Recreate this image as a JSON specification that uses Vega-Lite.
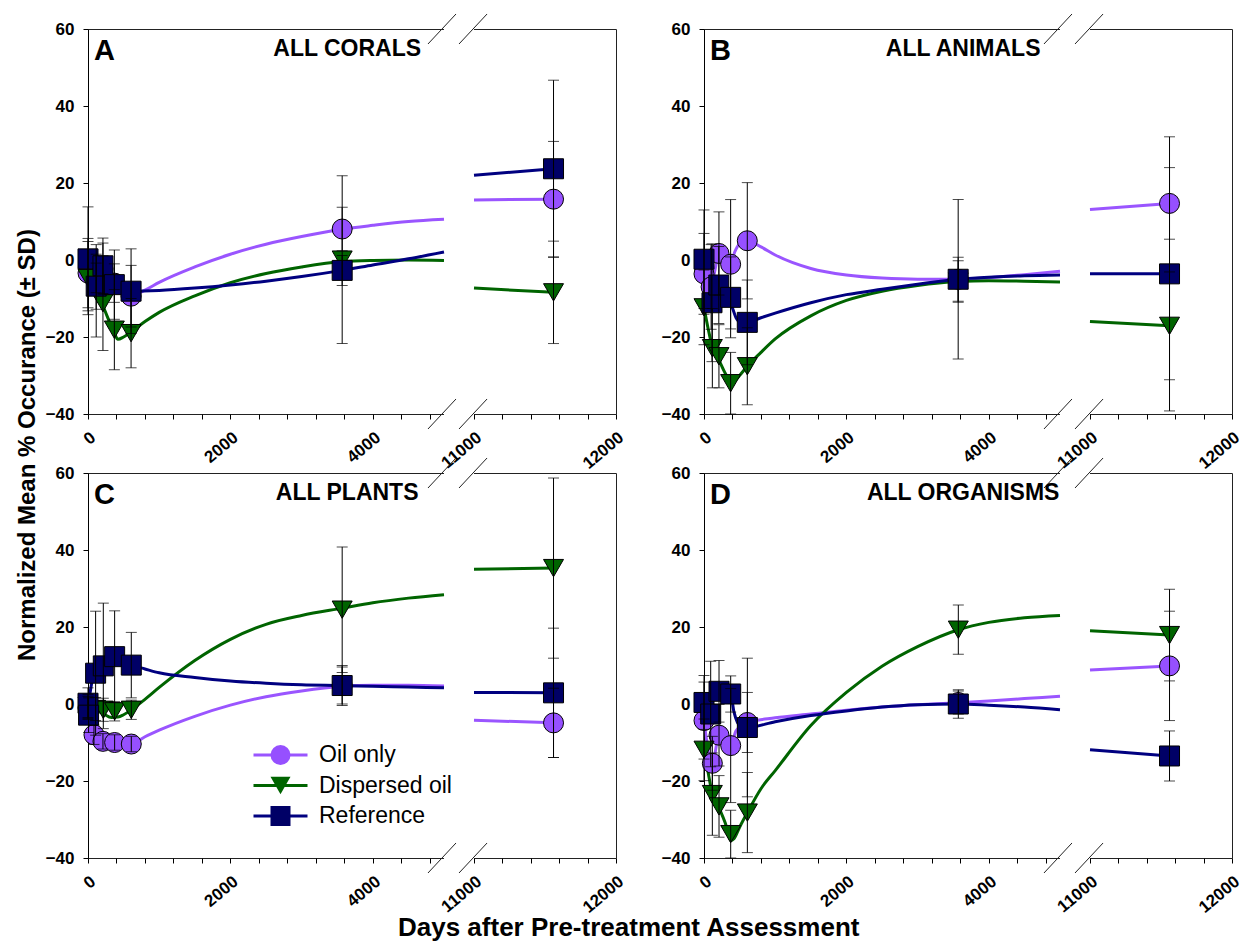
{
 "$schema": "https://vega.github.io/schema/vega-lite/v6.json",
 "padding": {"left": 15, "top": 12, "right": 0, "bottom": 0},
 "background": "white",
 "title": {"text": "Normalized Mean % Occurance (± SD)", "orient": "left", "anchor": "middle", "fontSize": 24, "font": "Liberation Sans", "fontWeight": "bold", "color": "black", "offset": 5, "dx": 32},
 "vconcat": [{
  "title": {"text": "Days after Pre-treatment Assessment", "orient": "bottom", "anchor": "middle", "fontSize": 26, "font": "Liberation Sans", "fontWeight": "bold", "color": "black", "offset": -1, "dx": -15},
  "data": {"values": [
   {"panel":"A","kind":"lab","letter":"A","name":"ALL CORALS"},
   {"panel":"B","kind":"lab","letter":"B","name":"ALL ANIMALS"},
   {"panel":"C","kind":"lab","letter":"C","name":"ALL PLANTS"},
   {"panel":"D","kind":"lab","letter":"D","name":"ALL ORGANISMS"},

   {"panel":"A","kind":"fit","treatment":"Oil only","seg":"L","day":0,"value":-3},
   {"panel":"A","kind":"fit","treatment":"Oil only","seg":"L","day":115,"value":-4},
   {"panel":"A","kind":"fit","treatment":"Oil only","seg":"L","day":210,"value":-5},
   {"panel":"A","kind":"fit","treatment":"Oil only","seg":"L","day":370,"value":-7},
   {"panel":"A","kind":"fit","treatment":"Oil only","seg":"L","day":605,"value":-9.2},
   {"panel":"A","kind":"fit","treatment":"Oil only","seg":"L","day":800,"value":-7.8},
   {"panel":"A","kind":"fit","treatment":"Oil only","seg":"L","day":1000,"value":-5.8},
   {"panel":"A","kind":"fit","treatment":"Oil only","seg":"L","day":1500,"value":-1.8},
   {"panel":"A","kind":"fit","treatment":"Oil only","seg":"L","day":2000,"value":1.5},
   {"panel":"A","kind":"fit","treatment":"Oil only","seg":"L","day":2500,"value":4.1},
   {"panel":"A","kind":"fit","treatment":"Oil only","seg":"L","day":3000,"value":6.1},
   {"panel":"A","kind":"fit","treatment":"Oil only","seg":"L","day":3570,"value":8.0},
   {"panel":"A","kind":"fit","treatment":"Oil only","seg":"L","day":4000,"value":9.0},
   {"panel":"A","kind":"fit","treatment":"Oil only","seg":"L","day":4500,"value":10},
   {"panel":"A","kind":"fit","treatment":"Oil only","seg":"L","day":5000,"value":10.6},
   {"panel":"A","kind":"fit","treatment":"Oil only","seg":"R","day":11000,"value":15.6},
   {"panel":"A","kind":"fit","treatment":"Oil only","seg":"R","day":11560,"value":15.8},
   {"panel":"A","kind":"fit","treatment":"Dispersed oil","seg":"L","day":0,"value":-4.7},
   {"panel":"A","kind":"fit","treatment":"Dispersed oil","seg":"L","day":115,"value":-8.5},
   {"panel":"A","kind":"fit","treatment":"Dispersed oil","seg":"L","day":210,"value":-12},
   {"panel":"A","kind":"fit","treatment":"Dispersed oil","seg":"L","day":300,"value":-16},
   {"panel":"A","kind":"fit","treatment":"Dispersed oil","seg":"L","day":370,"value":-19},
   {"panel":"A","kind":"fit","treatment":"Dispersed oil","seg":"L","day":420,"value":-20.6},
   {"panel":"A","kind":"fit","treatment":"Dispersed oil","seg":"L","day":500,"value":-20},
   {"panel":"A","kind":"fit","treatment":"Dispersed oil","seg":"L","day":605,"value":-18.7},
   {"panel":"A","kind":"fit","treatment":"Dispersed oil","seg":"L","day":800,"value":-16},
   {"panel":"A","kind":"fit","treatment":"Dispersed oil","seg":"L","day":1000,"value":-13.6},
   {"panel":"A","kind":"fit","treatment":"Dispersed oil","seg":"L","day":1500,"value":-9.3},
   {"panel":"A","kind":"fit","treatment":"Dispersed oil","seg":"L","day":2000,"value":-5.9},
   {"panel":"A","kind":"fit","treatment":"Dispersed oil","seg":"L","day":2500,"value":-3.5},
   {"panel":"A","kind":"fit","treatment":"Dispersed oil","seg":"L","day":3000,"value":-1.8},
   {"panel":"A","kind":"fit","treatment":"Dispersed oil","seg":"L","day":3570,"value":-0.4},
   {"panel":"A","kind":"fit","treatment":"Dispersed oil","seg":"L","day":4000,"value":-0.1},
   {"panel":"A","kind":"fit","treatment":"Dispersed oil","seg":"L","day":4500,"value":0},
   {"panel":"A","kind":"fit","treatment":"Dispersed oil","seg":"L","day":5000,"value":-0.1},
   {"panel":"A","kind":"fit","treatment":"Dispersed oil","seg":"R","day":11000,"value":-7.3},
   {"panel":"A","kind":"fit","treatment":"Dispersed oil","seg":"R","day":11560,"value":-8.4},
   {"panel":"A","kind":"fit","treatment":"Reference","seg":"L","day":0,"value":0.3},
   {"panel":"A","kind":"fit","treatment":"Reference","seg":"L","day":60,"value":-3.5},
   {"panel":"A","kind":"fit","treatment":"Reference","seg":"L","day":115,"value":-6.5},
   {"panel":"A","kind":"fit","treatment":"Reference","seg":"L","day":210,"value":-7.3},
   {"panel":"A","kind":"fit","treatment":"Reference","seg":"L","day":370,"value":-7.7},
   {"panel":"A","kind":"fit","treatment":"Reference","seg":"L","day":605,"value":-8.1},
   {"panel":"A","kind":"fit","treatment":"Reference","seg":"L","day":1000,"value":-7.9},
   {"panel":"A","kind":"fit","treatment":"Reference","seg":"L","day":1500,"value":-7.3},
   {"panel":"A","kind":"fit","treatment":"Reference","seg":"L","day":2000,"value":-6.5},
   {"panel":"A","kind":"fit","treatment":"Reference","seg":"L","day":2500,"value":-5.5},
   {"panel":"A","kind":"fit","treatment":"Reference","seg":"L","day":3000,"value":-4.3},
   {"panel":"A","kind":"fit","treatment":"Reference","seg":"L","day":3570,"value":-2.7},
   {"panel":"A","kind":"fit","treatment":"Reference","seg":"L","day":4000,"value":-1.3},
   {"panel":"A","kind":"fit","treatment":"Reference","seg":"L","day":4500,"value":0.3},
   {"panel":"A","kind":"fit","treatment":"Reference","seg":"L","day":5000,"value":2.1},
   {"panel":"A","kind":"fit","treatment":"Reference","seg":"R","day":11000,"value":22.0},
   {"panel":"A","kind":"fit","treatment":"Reference","seg":"R","day":11560,"value":23.7},

   {"panel":"B","kind":"fit","treatment":"Oil only","seg":"L","day":0,"value":-3.6},
   {"panel":"B","kind":"fit","treatment":"Oil only","seg":"L","day":50,"value":-6},
   {"panel":"B","kind":"fit","treatment":"Oil only","seg":"L","day":100,"value":-7.5},
   {"panel":"B","kind":"fit","treatment":"Oil only","seg":"L","day":150,"value":-3},
   {"panel":"B","kind":"fit","treatment":"Oil only","seg":"L","day":210,"value":1.7},
   {"panel":"B","kind":"fit","treatment":"Oil only","seg":"L","day":300,"value":0.5},
   {"panel":"B","kind":"fit","treatment":"Oil only","seg":"L","day":374,"value":-1.1},
   {"panel":"B","kind":"fit","treatment":"Oil only","seg":"L","day":430,"value":2},
   {"panel":"B","kind":"fit","treatment":"Oil only","seg":"L","day":500,"value":4.2},
   {"panel":"B","kind":"fit","treatment":"Oil only","seg":"L","day":608,"value":5},
   {"panel":"B","kind":"fit","treatment":"Oil only","seg":"L","day":800,"value":3.4},
   {"panel":"B","kind":"fit","treatment":"Oil only","seg":"L","day":1000,"value":1.3},
   {"panel":"B","kind":"fit","treatment":"Oil only","seg":"L","day":1500,"value":-2.2},
   {"panel":"B","kind":"fit","treatment":"Oil only","seg":"L","day":2000,"value":-3.9},
   {"panel":"B","kind":"fit","treatment":"Oil only","seg":"L","day":2500,"value":-4.7},
   {"panel":"B","kind":"fit","treatment":"Oil only","seg":"L","day":3000,"value":-5.0},
   {"panel":"B","kind":"fit","treatment":"Oil only","seg":"L","day":3570,"value":-5.0},
   {"panel":"B","kind":"fit","treatment":"Oil only","seg":"L","day":4000,"value":-4.6},
   {"panel":"B","kind":"fit","treatment":"Oil only","seg":"L","day":4500,"value":-3.8},
   {"panel":"B","kind":"fit","treatment":"Oil only","seg":"L","day":5000,"value":-2.9},
   {"panel":"B","kind":"fit","treatment":"Oil only","seg":"R","day":11000,"value":13.1},
   {"panel":"B","kind":"fit","treatment":"Oil only","seg":"R","day":11560,"value":14.7},
   {"panel":"B","kind":"fit","treatment":"Dispersed oil","seg":"L","day":0,"value":-12.3},
   {"panel":"B","kind":"fit","treatment":"Dispersed oil","seg":"L","day":60,"value":-18},
   {"panel":"B","kind":"fit","treatment":"Dispersed oil","seg":"L","day":117,"value":-22.6},
   {"panel":"B","kind":"fit","treatment":"Dispersed oil","seg":"L","day":210,"value":-26},
   {"panel":"B","kind":"fit","treatment":"Dispersed oil","seg":"L","day":300,"value":-29.5},
   {"panel":"B","kind":"fit","treatment":"Dispersed oil","seg":"L","day":374,"value":-31.8},
   {"panel":"B","kind":"fit","treatment":"Dispersed oil","seg":"L","day":420,"value":-31.5},
   {"panel":"B","kind":"fit","treatment":"Dispersed oil","seg":"L","day":500,"value":-30},
   {"panel":"B","kind":"fit","treatment":"Dispersed oil","seg":"L","day":608,"value":-27.6},
   {"panel":"B","kind":"fit","treatment":"Dispersed oil","seg":"L","day":800,"value":-24},
   {"panel":"B","kind":"fit","treatment":"Dispersed oil","seg":"L","day":1000,"value":-20.5},
   {"panel":"B","kind":"fit","treatment":"Dispersed oil","seg":"L","day":1500,"value":-14.5},
   {"panel":"B","kind":"fit","treatment":"Dispersed oil","seg":"L","day":2000,"value":-10.5},
   {"panel":"B","kind":"fit","treatment":"Dispersed oil","seg":"L","day":2500,"value":-8.1},
   {"panel":"B","kind":"fit","treatment":"Dispersed oil","seg":"L","day":3000,"value":-6.6},
   {"panel":"B","kind":"fit","treatment":"Dispersed oil","seg":"L","day":3570,"value":-5.6},
   {"panel":"B","kind":"fit","treatment":"Dispersed oil","seg":"L","day":4000,"value":-5.4},
   {"panel":"B","kind":"fit","treatment":"Dispersed oil","seg":"L","day":4500,"value":-5.5},
   {"panel":"B","kind":"fit","treatment":"Dispersed oil","seg":"L","day":5000,"value":-5.7},
   {"panel":"B","kind":"fit","treatment":"Dispersed oil","seg":"R","day":11000,"value":-16.0},
   {"panel":"B","kind":"fit","treatment":"Dispersed oil","seg":"R","day":11560,"value":-17.1},
   {"panel":"B","kind":"fit","treatment":"Reference","seg":"L","day":0,"value":0.2},
   {"panel":"B","kind":"fit","treatment":"Reference","seg":"L","day":50,"value":-5},
   {"panel":"B","kind":"fit","treatment":"Reference","seg":"L","day":112,"value":-9},
   {"panel":"B","kind":"fit","treatment":"Reference","seg":"L","day":210,"value":-9.2},
   {"panel":"B","kind":"fit","treatment":"Reference","seg":"L","day":330,"value":-9.8},
   {"panel":"B","kind":"fit","treatment":"Reference","seg":"L","day":400,"value":-12.5},
   {"panel":"B","kind":"fit","treatment":"Reference","seg":"L","day":450,"value":-15},
   {"panel":"B","kind":"fit","treatment":"Reference","seg":"L","day":500,"value":-16},
   {"panel":"B","kind":"fit","treatment":"Reference","seg":"L","day":608,"value":-16.2},
   {"panel":"B","kind":"fit","treatment":"Reference","seg":"L","day":800,"value":-15},
   {"panel":"B","kind":"fit","treatment":"Reference","seg":"L","day":1000,"value":-13.8},
   {"panel":"B","kind":"fit","treatment":"Reference","seg":"L","day":1500,"value":-11.1},
   {"panel":"B","kind":"fit","treatment":"Reference","seg":"L","day":2000,"value":-9.0},
   {"panel":"B","kind":"fit","treatment":"Reference","seg":"L","day":2500,"value":-7.6},
   {"panel":"B","kind":"fit","treatment":"Reference","seg":"L","day":3000,"value":-6.3},
   {"panel":"B","kind":"fit","treatment":"Reference","seg":"L","day":3570,"value":-5.0},
   {"panel":"B","kind":"fit","treatment":"Reference","seg":"L","day":4000,"value":-4.5},
   {"panel":"B","kind":"fit","treatment":"Reference","seg":"L","day":4500,"value":-4.1},
   {"panel":"B","kind":"fit","treatment":"Reference","seg":"L","day":5000,"value":-3.9},
   {"panel":"B","kind":"fit","treatment":"Reference","seg":"R","day":11000,"value":-3.6},
   {"panel":"B","kind":"fit","treatment":"Reference","seg":"R","day":11560,"value":-3.6},

   {"panel":"C","kind":"fit","treatment":"Oil only","seg":"L","day":0,"value":-1},
   {"panel":"C","kind":"fit","treatment":"Oil only","seg":"L","day":40,"value":-6},
   {"panel":"C","kind":"fit","treatment":"Oil only","seg":"L","day":84,"value":-8},
   {"panel":"C","kind":"fit","treatment":"Oil only","seg":"L","day":210,"value":-9.7},
   {"panel":"C","kind":"fit","treatment":"Oil only","seg":"L","day":374,"value":-10.1},
   {"panel":"C","kind":"fit","treatment":"Oil only","seg":"L","day":608,"value":-10.4},
   {"panel":"C","kind":"fit","treatment":"Oil only","seg":"L","day":800,"value":-8.5},
   {"panel":"C","kind":"fit","treatment":"Oil only","seg":"L","day":1000,"value":-6.8},
   {"panel":"C","kind":"fit","treatment":"Oil only","seg":"L","day":1500,"value":-3.2},
   {"panel":"C","kind":"fit","treatment":"Oil only","seg":"L","day":2000,"value":-0.3},
   {"panel":"C","kind":"fit","treatment":"Oil only","seg":"L","day":2500,"value":1.9},
   {"panel":"C","kind":"fit","treatment":"Oil only","seg":"L","day":3000,"value":3.4},
   {"panel":"C","kind":"fit","treatment":"Oil only","seg":"L","day":3570,"value":4.6},
   {"panel":"C","kind":"fit","treatment":"Oil only","seg":"L","day":4000,"value":4.9},
   {"panel":"C","kind":"fit","treatment":"Oil only","seg":"L","day":4500,"value":4.9},
   {"panel":"C","kind":"fit","treatment":"Oil only","seg":"L","day":5000,"value":4.7},
   {"panel":"C","kind":"fit","treatment":"Oil only","seg":"R","day":11000,"value":-4.2},
   {"panel":"C","kind":"fit","treatment":"Oil only","seg":"R","day":11560,"value":-4.9},
   {"panel":"C","kind":"fit","treatment":"Dispersed oil","seg":"L","day":0,"value":-0.5},
   {"panel":"C","kind":"fit","treatment":"Dispersed oil","seg":"L","day":107,"value":-1.5},
   {"panel":"C","kind":"fit","treatment":"Dispersed oil","seg":"L","day":215,"value":-2.5},
   {"panel":"C","kind":"fit","treatment":"Dispersed oil","seg":"L","day":330,"value":-3.5},
   {"panel":"C","kind":"fit","treatment":"Dispersed oil","seg":"L","day":420,"value":-3.4},
   {"panel":"C","kind":"fit","treatment":"Dispersed oil","seg":"L","day":500,"value":-2.8},
   {"panel":"C","kind":"fit","treatment":"Dispersed oil","seg":"L","day":608,"value":-1.5},
   {"panel":"C","kind":"fit","treatment":"Dispersed oil","seg":"L","day":800,"value":1.2},
   {"panel":"C","kind":"fit","treatment":"Dispersed oil","seg":"L","day":1000,"value":4.3},
   {"panel":"C","kind":"fit","treatment":"Dispersed oil","seg":"L","day":1500,"value":11.3},
   {"panel":"C","kind":"fit","treatment":"Dispersed oil","seg":"L","day":2000,"value":16.8},
   {"panel":"C","kind":"fit","treatment":"Dispersed oil","seg":"L","day":2500,"value":20.7},
   {"panel":"C","kind":"fit","treatment":"Dispersed oil","seg":"L","day":3000,"value":23.0},
   {"panel":"C","kind":"fit","treatment":"Dispersed oil","seg":"L","day":3570,"value":24.9},
   {"panel":"C","kind":"fit","treatment":"Dispersed oil","seg":"L","day":4000,"value":26.3},
   {"panel":"C","kind":"fit","treatment":"Dispersed oil","seg":"L","day":4500,"value":27.5},
   {"panel":"C","kind":"fit","treatment":"Dispersed oil","seg":"L","day":5000,"value":28.4},
   {"panel":"C","kind":"fit","treatment":"Dispersed oil","seg":"R","day":11000,"value":35.0},
   {"panel":"C","kind":"fit","treatment":"Dispersed oil","seg":"R","day":11560,"value":35.3},
   {"panel":"C","kind":"fit","treatment":"Reference","seg":"L","day":0,"value":-1},
   {"panel":"C","kind":"fit","treatment":"Reference","seg":"L","day":30,"value":3},
   {"panel":"C","kind":"fit","treatment":"Reference","seg":"L","day":60,"value":6.2},
   {"panel":"C","kind":"fit","treatment":"Reference","seg":"L","day":107,"value":8.2},
   {"panel":"C","kind":"fit","treatment":"Reference","seg":"L","day":215,"value":10.2},
   {"panel":"C","kind":"fit","treatment":"Reference","seg":"L","day":374,"value":11.8},
   {"panel":"C","kind":"fit","treatment":"Reference","seg":"L","day":608,"value":10.1},
   {"panel":"C","kind":"fit","treatment":"Reference","seg":"L","day":800,"value":9.1},
   {"panel":"C","kind":"fit","treatment":"Reference","seg":"L","day":1000,"value":8.1},
   {"panel":"C","kind":"fit","treatment":"Reference","seg":"L","day":1500,"value":6.9},
   {"panel":"C","kind":"fit","treatment":"Reference","seg":"L","day":2000,"value":6.0},
   {"panel":"C","kind":"fit","treatment":"Reference","seg":"L","day":2500,"value":5.4},
   {"panel":"C","kind":"fit","treatment":"Reference","seg":"L","day":3000,"value":5.0},
   {"panel":"C","kind":"fit","treatment":"Reference","seg":"L","day":3570,"value":4.8},
   {"panel":"C","kind":"fit","treatment":"Reference","seg":"L","day":4000,"value":4.6},
   {"panel":"C","kind":"fit","treatment":"Reference","seg":"L","day":4500,"value":4.4},
   {"panel":"C","kind":"fit","treatment":"Reference","seg":"L","day":5000,"value":4.2},
   {"panel":"C","kind":"fit","treatment":"Reference","seg":"R","day":11000,"value":3.0},
   {"panel":"C","kind":"fit","treatment":"Reference","seg":"R","day":11560,"value":2.9},

   {"panel":"D","kind":"fit","treatment":"Oil only","seg":"L","day":0,"value":-4.5},
   {"panel":"D","kind":"fit","treatment":"Oil only","seg":"L","day":117,"value":-15.4},
   {"panel":"D","kind":"fit","treatment":"Oil only","seg":"L","day":211,"value":-8.3},
   {"panel":"D","kind":"fit","treatment":"Oil only","seg":"L","day":300,"value":-9.5},
   {"panel":"D","kind":"fit","treatment":"Oil only","seg":"L","day":375,"value":-10.8},
   {"panel":"D","kind":"fit","treatment":"Oil only","seg":"L","day":450,"value":-7},
   {"panel":"D","kind":"fit","treatment":"Oil only","seg":"L","day":609,"value":-4.8},
   {"panel":"D","kind":"fit","treatment":"Oil only","seg":"L","day":1000,"value":-3.6},
   {"panel":"D","kind":"fit","treatment":"Oil only","seg":"L","day":1500,"value":-2.6},
   {"panel":"D","kind":"fit","treatment":"Oil only","seg":"L","day":2000,"value":-1.6},
   {"panel":"D","kind":"fit","treatment":"Oil only","seg":"L","day":2500,"value":-0.8},
   {"panel":"D","kind":"fit","treatment":"Oil only","seg":"L","day":3000,"value":-0.2},
   {"panel":"D","kind":"fit","treatment":"Oil only","seg":"L","day":3572,"value":0.3},
   {"panel":"D","kind":"fit","treatment":"Oil only","seg":"L","day":4000,"value":0.8},
   {"panel":"D","kind":"fit","treatment":"Oil only","seg":"L","day":4500,"value":1.4},
   {"panel":"D","kind":"fit","treatment":"Oil only","seg":"L","day":5000,"value":2.0},
   {"panel":"D","kind":"fit","treatment":"Oil only","seg":"R","day":11000,"value":8.8},
   {"panel":"D","kind":"fit","treatment":"Oil only","seg":"R","day":11560,"value":9.9},
   {"panel":"D","kind":"fit","treatment":"Dispersed oil","seg":"L","day":0,"value":-11.9},
   {"panel":"D","kind":"fit","treatment":"Dispersed oil","seg":"L","day":60,"value":-18},
   {"panel":"D","kind":"fit","treatment":"Dispersed oil","seg":"L","day":117,"value":-23.4},
   {"panel":"D","kind":"fit","treatment":"Dispersed oil","seg":"L","day":211,"value":-27},
   {"panel":"D","kind":"fit","treatment":"Dispersed oil","seg":"L","day":300,"value":-31},
   {"panel":"D","kind":"fit","treatment":"Dispersed oil","seg":"L","day":375,"value":-35.5},
   {"panel":"D","kind":"fit","treatment":"Dispersed oil","seg":"L","day":420,"value":-35},
   {"panel":"D","kind":"fit","treatment":"Dispersed oil","seg":"L","day":500,"value":-32},
   {"panel":"D","kind":"fit","treatment":"Dispersed oil","seg":"L","day":609,"value":-28.2},
   {"panel":"D","kind":"fit","treatment":"Dispersed oil","seg":"L","day":800,"value":-22},
   {"panel":"D","kind":"fit","treatment":"Dispersed oil","seg":"L","day":1000,"value":-17.3},
   {"panel":"D","kind":"fit","treatment":"Dispersed oil","seg":"L","day":1500,"value":-5.6},
   {"panel":"D","kind":"fit","treatment":"Dispersed oil","seg":"L","day":2000,"value":3.0},
   {"panel":"D","kind":"fit","treatment":"Dispersed oil","seg":"L","day":2500,"value":9.8},
   {"panel":"D","kind":"fit","treatment":"Dispersed oil","seg":"L","day":3000,"value":14.9},
   {"panel":"D","kind":"fit","treatment":"Dispersed oil","seg":"L","day":3572,"value":19.3},
   {"panel":"D","kind":"fit","treatment":"Dispersed oil","seg":"L","day":4000,"value":21.2},
   {"panel":"D","kind":"fit","treatment":"Dispersed oil","seg":"L","day":4500,"value":22.4},
   {"panel":"D","kind":"fit","treatment":"Dispersed oil","seg":"L","day":5000,"value":23.0},
   {"panel":"D","kind":"fit","treatment":"Dispersed oil","seg":"R","day":11000,"value":19.0},
   {"panel":"D","kind":"fit","treatment":"Dispersed oil","seg":"R","day":11560,"value":17.9},
   {"panel":"D","kind":"fit","treatment":"Reference","seg":"L","day":0,"value":0.4},
   {"panel":"D","kind":"fit","treatment":"Reference","seg":"L","day":60,"value":1.8},
   {"panel":"D","kind":"fit","treatment":"Reference","seg":"L","day":120,"value":3.0},
   {"panel":"D","kind":"fit","treatment":"Reference","seg":"L","day":211,"value":3.3},
   {"panel":"D","kind":"fit","treatment":"Reference","seg":"L","day":375,"value":2.6},
   {"panel":"D","kind":"fit","treatment":"Reference","seg":"L","day":420,"value":-2},
   {"panel":"D","kind":"fit","treatment":"Reference","seg":"L","day":470,"value":-4.8},
   {"panel":"D","kind":"fit","treatment":"Reference","seg":"L","day":520,"value":-5.8},
   {"panel":"D","kind":"fit","treatment":"Reference","seg":"L","day":609,"value":-6.1},
   {"panel":"D","kind":"fit","treatment":"Reference","seg":"L","day":1000,"value":-4.6},
   {"panel":"D","kind":"fit","treatment":"Reference","seg":"L","day":1500,"value":-3.0},
   {"panel":"D","kind":"fit","treatment":"Reference","seg":"L","day":2000,"value":-1.8},
   {"panel":"D","kind":"fit","treatment":"Reference","seg":"L","day":2500,"value":-0.8},
   {"panel":"D","kind":"fit","treatment":"Reference","seg":"L","day":3000,"value":-0.2},
   {"panel":"D","kind":"fit","treatment":"Reference","seg":"L","day":3572,"value":0},
   {"panel":"D","kind":"fit","treatment":"Reference","seg":"L","day":4000,"value":-0.3},
   {"panel":"D","kind":"fit","treatment":"Reference","seg":"L","day":4500,"value":-0.8},
   {"panel":"D","kind":"fit","treatment":"Reference","seg":"L","day":5000,"value":-1.5},
   {"panel":"D","kind":"fit","treatment":"Reference","seg":"R","day":11000,"value":-11.9},
   {"panel":"D","kind":"fit","treatment":"Reference","seg":"R","day":11560,"value":-13.5},

   {"panel":"A","kind":"pt","treatment":"Oil only","ord":1,"day":0,"value":-3.4,"sd":9},
   {"panel":"A","kind":"pt","treatment":"Oil only","ord":1,"day":115,"value":-3.5,"sd":5},
   {"panel":"A","kind":"pt","treatment":"Oil only","ord":1,"day":210,"value":-2.3,"sd":6.7},
   {"panel":"A","kind":"pt","treatment":"Oil only","ord":1,"day":370,"value":-6,"sd":5},
   {"panel":"A","kind":"pt","treatment":"Oil only","ord":1,"day":605,"value":-9.4,"sd":8},
   {"panel":"A","kind":"pt","treatment":"Oil only","ord":1,"day":3570,"value":8.05,"sd":5.65},
   {"panel":"A","kind":"pt","treatment":"Oil only","ord":1,"day":11560,"value":15.8,"sd":15},
   {"panel":"A","kind":"pt","treatment":"Dispersed oil","ord":2,"day":0,"value":-4.7,"sd":9.5},
   {"panel":"A","kind":"pt","treatment":"Dispersed oil","ord":2,"day":115,"value":-8,"sd":12},
   {"panel":"A","kind":"pt","treatment":"Dispersed oil","ord":2,"day":210,"value":-11.2,"sd":12.3},
   {"panel":"A","kind":"pt","treatment":"Dispersed oil","ord":2,"day":370,"value":-18.1,"sd":10.4},
   {"panel":"A","kind":"pt","treatment":"Dispersed oil","ord":2,"day":605,"value":-19,"sd":9},
   {"panel":"A","kind":"pt","treatment":"Dispersed oil","ord":2,"day":3570,"value":0.1,"sd":21.8},
   {"panel":"A","kind":"pt","treatment":"Dispersed oil","ord":2,"day":11560,"value":-8.4,"sd":13.3},
   {"panel":"A","kind":"pt","treatment":"Reference","ord":3,"day":0,"value":0.3,"sd":13.5},
   {"panel":"A","kind":"pt","treatment":"Reference","ord":3,"day":115,"value":-6.8,"sd":6},
   {"panel":"A","kind":"pt","treatment":"Reference","ord":3,"day":210,"value":-1.5,"sd":7.2},
   {"panel":"A","kind":"pt","treatment":"Reference","ord":3,"day":370,"value":-6.4,"sd":9},
   {"panel":"A","kind":"pt","treatment":"Reference","ord":3,"day":605,"value":-8.1,"sd":11},
   {"panel":"A","kind":"pt","treatment":"Reference","ord":3,"day":3570,"value":-2.7,"sd":3.9},
   {"panel":"A","kind":"pt","treatment":"Reference","ord":3,"day":11560,"value":23.7,"sd":23},

   {"panel":"B","kind":"pt","treatment":"Oil only","ord":1,"day":0,"value":-3.6,"sd":10.5},
   {"panel":"B","kind":"pt","treatment":"Oil only","ord":1,"day":100,"value":-7,"sd":11},
   {"panel":"B","kind":"pt","treatment":"Oil only","ord":1,"day":210,"value":1.7,"sd":10.8},
   {"panel":"B","kind":"pt","treatment":"Oil only","ord":1,"day":374,"value":-1.1,"sd":16.8},
   {"panel":"B","kind":"pt","treatment":"Oil only","ord":1,"day":608,"value":5,"sd":15.1},
   {"panel":"B","kind":"pt","treatment":"Oil only","ord":1,"day":3570,"value":-5,"sd":5.7},
   {"panel":"B","kind":"pt","treatment":"Oil only","ord":1,"day":11560,"value":14.7,"sd":9.3},
   {"panel":"B","kind":"pt","treatment":"Dispersed oil","ord":2,"day":0,"value":-12.3,"sd":9.7},
   {"panel":"B","kind":"pt","treatment":"Dispersed oil","ord":2,"day":117,"value":-22.9,"sd":10.3},
   {"panel":"B","kind":"pt","treatment":"Dispersed oil","ord":2,"day":210,"value":-25,"sd":8.2},
   {"panel":"B","kind":"pt","treatment":"Dispersed oil","ord":2,"day":374,"value":-32,"sd":8},
   {"panel":"B","kind":"pt","treatment":"Dispersed oil","ord":2,"day":608,"value":-27.6,"sd":10},
   {"panel":"B","kind":"pt","treatment":"Dispersed oil","ord":2,"day":3570,"value":-5.6,"sd":5.4},
   {"panel":"B","kind":"pt","treatment":"Dispersed oil","ord":2,"day":11560,"value":-17.1,"sd":14},
   {"panel":"B","kind":"pt","treatment":"Reference","ord":3,"day":0,"value":0.2,"sd":12.8},
   {"panel":"B","kind":"pt","treatment":"Reference","ord":3,"day":112,"value":-11.1,"sd":15.3},
   {"panel":"B","kind":"pt","treatment":"Reference","ord":3,"day":208,"value":-6.5,"sd":10},
   {"panel":"B","kind":"pt","treatment":"Reference","ord":3,"day":374,"value":-9.7,"sd":10.5},
   {"panel":"B","kind":"pt","treatment":"Reference","ord":3,"day":608,"value":-16.2,"sd":11},
   {"panel":"B","kind":"pt","treatment":"Reference","ord":3,"day":3570,"value":-5,"sd":20.7},
   {"panel":"B","kind":"pt","treatment":"Reference","ord":3,"day":11560,"value":-3.6,"sd":35.6},

   {"panel":"C","kind":"pt","treatment":"Oil only","ord":1,"day":0,"value":-1,"sd":3},
   {"panel":"C","kind":"pt","treatment":"Oil only","ord":1,"day":84,"value":-8,"sd":2.5},
   {"panel":"C","kind":"pt","treatment":"Oil only","ord":1,"day":210,"value":-9.7,"sd":2},
   {"panel":"C","kind":"pt","treatment":"Oil only","ord":1,"day":374,"value":-10,"sd":2},
   {"panel":"C","kind":"pt","treatment":"Oil only","ord":1,"day":608,"value":-10.4,"sd":2},
   {"panel":"C","kind":"pt","treatment":"Oil only","ord":1,"day":3570,"value":4.8,"sd":4.8},
   {"panel":"C","kind":"pt","treatment":"Oil only","ord":1,"day":11560,"value":-4.9,"sd":9},
   {"panel":"C","kind":"pt","treatment":"Dispersed oil","ord":2,"day":0,"value":-0.5,"sd":3},
   {"panel":"C","kind":"pt","treatment":"Dispersed oil","ord":2,"day":107,"value":-1.3,"sd":3},
   {"panel":"C","kind":"pt","treatment":"Dispersed oil","ord":2,"day":215,"value":-1.5,"sd":3},
   {"panel":"C","kind":"pt","treatment":"Dispersed oil","ord":2,"day":374,"value":-1.9,"sd":2.5},
   {"panel":"C","kind":"pt","treatment":"Dispersed oil","ord":2,"day":608,"value":-1.5,"sd":2.5},
   {"panel":"C","kind":"pt","treatment":"Dispersed oil","ord":2,"day":3570,"value":24.5,"sd":16.3},
   {"panel":"C","kind":"pt","treatment":"Dispersed oil","ord":2,"day":11560,"value":35.3,"sd":23.4},
   {"panel":"C","kind":"pt","treatment":"Reference","ord":3,"day":0,"value":0.2,"sd":4},
   {"panel":"C","kind":"pt","treatment":"Reference","ord":3,"day":8,"value":-2.9,"sd":4.5},
   {"panel":"C","kind":"pt","treatment":"Reference","ord":3,"day":107,"value":8,"sd":16.1},
   {"panel":"C","kind":"pt","treatment":"Reference","ord":3,"day":215,"value":9.9,"sd":16.3},
   {"panel":"C","kind":"pt","treatment":"Reference","ord":3,"day":374,"value":12.3,"sd":11.9},
   {"panel":"C","kind":"pt","treatment":"Reference","ord":3,"day":608,"value":10.1,"sd":8.5},
   {"panel":"C","kind":"pt","treatment":"Reference","ord":3,"day":3570,"value":4.8,"sd":5.2},
   {"panel":"C","kind":"pt","treatment":"Reference","ord":3,"day":11560,"value":2.9,"sd":16.8},

   {"panel":"D","kind":"pt","treatment":"Oil only","ord":1,"day":0,"value":-4.3,"sd":10},
   {"panel":"D","kind":"pt","treatment":"Oil only","ord":1,"day":117,"value":-15.4,"sd":7},
   {"panel":"D","kind":"pt","treatment":"Oil only","ord":1,"day":211,"value":-8.1,"sd":8},
   {"panel":"D","kind":"pt","treatment":"Oil only","ord":1,"day":375,"value":-10.8,"sd":14.8},
   {"panel":"D","kind":"pt","treatment":"Oil only","ord":1,"day":609,"value":-4.8,"sd":7.8},
   {"panel":"D","kind":"pt","treatment":"Oil only","ord":1,"day":3572,"value":0.4,"sd":3},
   {"panel":"D","kind":"pt","treatment":"Oil only","ord":1,"day":11560,"value":9.9,"sd":14.2},
   {"panel":"D","kind":"pt","treatment":"Dispersed oil","ord":2,"day":0,"value":-11.9,"sd":8},
   {"panel":"D","kind":"pt","treatment":"Dispersed oil","ord":2,"day":117,"value":-23.4,"sd":10.7},
   {"panel":"D","kind":"pt","treatment":"Dispersed oil","ord":2,"day":211,"value":-26.6,"sd":8},
   {"panel":"D","kind":"pt","treatment":"Dispersed oil","ord":2,"day":375,"value":-33.8,"sd":6.2},
   {"panel":"D","kind":"pt","treatment":"Dispersed oil","ord":2,"day":609,"value":-28.2,"sd":10.4},
   {"panel":"D","kind":"pt","treatment":"Dispersed oil","ord":2,"day":3572,"value":19.3,"sd":6.4},
   {"panel":"D","kind":"pt","treatment":"Dispersed oil","ord":2,"day":11560,"value":17.9,"sd":11.9},
   {"panel":"D","kind":"pt","treatment":"Reference","ord":3,"day":0,"value":0.4,"sd":7},
   {"panel":"D","kind":"pt","treatment":"Reference","ord":3,"day":94,"value":-2.6,"sd":13.7},
   {"panel":"D","kind":"pt","treatment":"Reference","ord":3,"day":211,"value":3.3,"sd":8},
   {"panel":"D","kind":"pt","treatment":"Reference","ord":3,"day":375,"value":2.6,"sd":4.7},
   {"panel":"D","kind":"pt","treatment":"Reference","ord":3,"day":609,"value":-6.1,"sd":18},
   {"panel":"D","kind":"pt","treatment":"Reference","ord":3,"day":3572,"value":0,"sd":3.7},
   {"panel":"D","kind":"pt","treatment":"Reference","ord":3,"day":11560,"value":-13.5,"sd":6.5}
  ]},
  "columns": 2,
  "spacing": {"row": 59, "column": 88},
  "bounds": "flush",
  "resolve": {"scale": {"stroke": "shared", "fill": "shared", "shape": "shared"}},
  "concat": [
   {"width": 528, "height": 385, "transform": [{"filter": "datum.panel === 'A'"}], "resolve": {"axis": {"x": "independent"}},
    "layer": [
     {"transform": [{"filter": "datum.kind === 'lab'"}], "mark": {"type": "rect", "fill": "white", "strokeWidth": 0},
      "encoding": {"x": {"datum": 5000, "axis": null}, "x2": {"datum": 11000}, "y": {"datum": 60.35}, "y2": {"datum": -40.35}}},
     {"transform": [{"filter": "datum.kind === 'lab'"}], "mark": {"type": "rule", "color": "#222222", "strokeWidth": 1},
      "encoding": {"x": {"datum": 4775, "axis": null}, "x2": {"datum": 7400}, "y": {"datum": -43.9}, "y2": {"datum": -36.1}}},
     {"transform": [{"filter": "datum.kind === 'lab'"}], "mark": {"type": "rule", "color": "#222222", "strokeWidth": 1},
      "encoding": {"x": {"datum": 8000, "axis": null}, "x2": {"datum": 11092}, "y": {"datum": -43.9}, "y2": {"datum": -36.1}}},
     {"transform": [{"filter": "datum.kind === 'lab'"}], "mark": {"type": "rule", "color": "#222222", "strokeWidth": 1},
      "encoding": {"x": {"datum": 4775, "axis": null}, "x2": {"datum": 7400}, "y": {"datum": 56.1}, "y2": {"datum": 63.9}}},
     {"transform": [{"filter": "datum.kind === 'lab'"}], "mark": {"type": "rule", "color": "#222222", "strokeWidth": 1},
      "encoding": {"x": {"datum": 8000, "axis": null}, "x2": {"datum": 11092}, "y": {"datum": 56.1}, "y2": {"datum": 63.9}}},
     {"transform": [{"filter": "datum.kind === 'fit'"}], "mark": {"type": "line", "strokeWidth": 3, "interpolate": "monotone"},
      "encoding": {
       "x": {"field": "day", "type": "quantitative", "title": null,
             "scale": {"domain": [0, 5000, 11000, 12000], "range": [0, 356, 386, 528], "nice": false, "zero": false},
             "axis": {"orient": "bottom", "values": [0, 2000, 4000, 11000, 12000], "format": "d", "labelAngle": -40, "labelAlign": "right", "labelBaseline": "top", "labelPadding": 10, "labelDx": -8, "labelFlush": false, "labelOverlap": false, "labelBound": false, "domain": false, "grid": false, "title": null}},
       "y": {"field": "value", "type": "quantitative", "title": null,
             "scale": {"domain": [-40, 60], "nice": false, "zero": false},
             "axis": {"values": [-40, -20, 0, 20, 40, 60], "labelPadding": 9, "labelFlush": false, "labelOverlap": false, "domain": true, "grid": false, "title": null}},
       "stroke": {"field": "treatment", "type": "nominal",
                  "scale": {"domain": ["Oil only", "Dispersed oil", "Reference"], "range": ["#9a55ff", "#006400", "#000080"]},
                  "legend": {"orient": "none", "legendX": 164, "legendY": 711, "title": null, "symbolType": "stroke", "symbolSize": 2916, "symbolStrokeWidth": 3, "labelFontSize": 23, "labelFont": "Liberation Sans", "labelColor": "black", "labelOffset": 10, "clipHeight": 30, "rowPadding": 0.5, "padding": 0, "zindex": 0}},
       "detail": {"field": "seg"}}},
     {"transform": [{"filter": "datum.kind === 'pt'"}], "mark": {"type": "point", "filled": true, "size": 400, "stroke": "black", "strokeWidth": 1, "opacity": 1},
      "encoding": {
       "x": {"field": "day", "type": "quantitative", "title": null,
             "axis": {"orient": "bottom", "values": [400, 800, 1200, 1600, 2400, 2800, 3200, 3600, 4400, 4800, 11200, 11400, 11600, 11800], "labels": false, "domain": false, "grid": false, "title": null}},
       "y": {"field": "value", "type": "quantitative", "title": null},
       "shape": {"field": "treatment", "type": "nominal", "sort": {"field": "ord", "op": "min"}, "scale": {"range": ["circle", "triangle-down", "square"]},
                 "legend": {"orient": "none", "legendX": 164, "legendY": 711, "title": null, "symbolSize": 400, "symbolStrokeColor": "black", "symbolStrokeWidth": 1, "symbolOffset": 17, "labelExpr": "''", "labelFontSize": 23, "clipHeight": 30, "rowPadding": 0.5, "padding": 0, "zindex": 1}},
       "fill": {"field": "treatment", "type": "nominal", "sort": {"field": "ord", "op": "min"}, "scale": {"range": ["#9650ff", "#006400", "#000066"]},
                "legend": {"orient": "none", "legendX": 164, "legendY": 711, "title": null, "symbolSize": 400, "symbolStrokeColor": "black", "symbolStrokeWidth": 1, "symbolOffset": 17, "labelExpr": "''", "labelFontSize": 23, "clipHeight": 30, "rowPadding": 0.5, "padding": 0, "zindex": 1}}}},
     {"transform": [{"filter": "datum.kind === 'pt'"}], "mark": {"type": "errorbar", "ticks": {"size": 11, "color": "black", "strokeWidth": 1}, "rule": {"color": "black", "strokeWidth": 1}},
      "encoding": {"x": {"field": "day", "type": "quantitative", "title": null, "axis": null}, "y": {"field": "value", "type": "quantitative", "title": null}, "yError": {"field": "sd"}}},
     {"transform": [{"filter": "datum.kind === 'lab'"}], "mark": {"type": "text", "align": "left", "baseline": "middle", "fontSize": 29, "fontWeight": "bold", "font": "Liberation Sans", "color": "black"},
      "encoding": {"x": {"datum": 85, "axis": null}, "y": {"datum": 54.4}, "text": {"field": "letter"}}},
     {"transform": [{"filter": "datum.kind === 'lab'"}], "mark": {"type": "text", "align": "center", "baseline": "middle", "fontSize": 23, "fontWeight": "bold", "font": "Liberation Sans", "color": "black"},
      "encoding": {"x": {"datum": 3640, "axis": null}, "y": {"datum": 54.7}, "text": {"field": "name"}}}
    ]},
   {"width": 528, "height": 385, "transform": [{"filter": "datum.panel === 'B'"}], "resolve": {"axis": {"x": "independent"}},
    "layer": [
     {"transform": [{"filter": "datum.kind === 'lab'"}], "mark": {"type": "rect", "fill": "white", "strokeWidth": 0},
      "encoding": {"x": {"datum": 5000, "axis": null}, "x2": {"datum": 11000}, "y": {"datum": 60.35}, "y2": {"datum": -40.35}}},
     {"transform": [{"filter": "datum.kind === 'lab'"}], "mark": {"type": "rule", "color": "#222222", "strokeWidth": 1},
      "encoding": {"x": {"datum": 4775, "axis": null}, "x2": {"datum": 7400}, "y": {"datum": -43.9}, "y2": {"datum": -36.1}}},
     {"transform": [{"filter": "datum.kind === 'lab'"}], "mark": {"type": "rule", "color": "#222222", "strokeWidth": 1},
      "encoding": {"x": {"datum": 8000, "axis": null}, "x2": {"datum": 11092}, "y": {"datum": -43.9}, "y2": {"datum": -36.1}}},
     {"transform": [{"filter": "datum.kind === 'lab'"}], "mark": {"type": "rule", "color": "#222222", "strokeWidth": 1},
      "encoding": {"x": {"datum": 4775, "axis": null}, "x2": {"datum": 7400}, "y": {"datum": 56.1}, "y2": {"datum": 63.9}}},
     {"transform": [{"filter": "datum.kind === 'lab'"}], "mark": {"type": "rule", "color": "#222222", "strokeWidth": 1},
      "encoding": {"x": {"datum": 8000, "axis": null}, "x2": {"datum": 11092}, "y": {"datum": 56.1}, "y2": {"datum": 63.9}}},
     {"transform": [{"filter": "datum.kind === 'fit'"}], "mark": {"type": "line", "strokeWidth": 3, "interpolate": "monotone"},
      "encoding": {
       "x": {"field": "day", "type": "quantitative", "title": null,
             "scale": {"domain": [0, 5000, 11000, 12000], "range": [0, 356, 386, 528], "nice": false, "zero": false},
             "axis": {"orient": "bottom", "values": [0, 2000, 4000, 11000, 12000], "format": "d", "labelAngle": -40, "labelAlign": "right", "labelBaseline": "top", "labelPadding": 10, "labelDx": -8, "labelFlush": false, "labelOverlap": false, "labelBound": false, "domain": false, "grid": false, "title": null}},
       "y": {"field": "value", "type": "quantitative", "title": null,
             "scale": {"domain": [-40, 60], "nice": false, "zero": false},
             "axis": {"values": [-40, -20, 0, 20, 40, 60], "labelPadding": 9, "labelFlush": false, "labelOverlap": false, "domain": true, "grid": false, "title": null}},
       "stroke": {"field": "treatment", "type": "nominal",
                  "scale": {"domain": ["Oil only", "Dispersed oil", "Reference"], "range": ["#9a55ff", "#006400", "#000080"]},
                  "legend": {"orient": "none", "legendX": 164, "legendY": 711, "title": null, "symbolType": "stroke", "symbolSize": 2916, "symbolStrokeWidth": 3, "labelFontSize": 23, "labelFont": "Liberation Sans", "labelColor": "black", "labelOffset": 10, "clipHeight": 30, "rowPadding": 0.5, "padding": 0, "zindex": 0}},
       "detail": {"field": "seg"}}},
     {"transform": [{"filter": "datum.kind === 'pt'"}], "mark": {"type": "point", "filled": true, "size": 400, "stroke": "black", "strokeWidth": 1, "opacity": 1},
      "encoding": {
       "x": {"field": "day", "type": "quantitative", "title": null,
             "axis": {"orient": "bottom", "values": [400, 800, 1200, 1600, 2400, 2800, 3200, 3600, 4400, 4800, 11200, 11400, 11600, 11800], "labels": false, "domain": false, "grid": false, "title": null}},
       "y": {"field": "value", "type": "quantitative", "title": null},
       "shape": {"field": "treatment", "type": "nominal", "sort": {"field": "ord", "op": "min"}, "scale": {"range": ["circle", "triangle-down", "square"]},
                 "legend": {"orient": "none", "legendX": 164, "legendY": 711, "title": null, "symbolSize": 400, "symbolStrokeColor": "black", "symbolStrokeWidth": 1, "symbolOffset": 17, "labelExpr": "''", "labelFontSize": 23, "clipHeight": 30, "rowPadding": 0.5, "padding": 0, "zindex": 1}},
       "fill": {"field": "treatment", "type": "nominal", "sort": {"field": "ord", "op": "min"}, "scale": {"range": ["#9650ff", "#006400", "#000066"]},
                "legend": {"orient": "none", "legendX": 164, "legendY": 711, "title": null, "symbolSize": 400, "symbolStrokeColor": "black", "symbolStrokeWidth": 1, "symbolOffset": 17, "labelExpr": "''", "labelFontSize": 23, "clipHeight": 30, "rowPadding": 0.5, "padding": 0, "zindex": 1}}}},
     {"transform": [{"filter": "datum.kind === 'pt'"}], "mark": {"type": "errorbar", "ticks": {"size": 11, "color": "black", "strokeWidth": 1}, "rule": {"color": "black", "strokeWidth": 1}},
      "encoding": {"x": {"field": "day", "type": "quantitative", "title": null, "axis": null}, "y": {"field": "value", "type": "quantitative", "title": null}, "yError": {"field": "sd"}}},
     {"transform": [{"filter": "datum.kind === 'lab'"}], "mark": {"type": "text", "align": "left", "baseline": "middle", "fontSize": 29, "fontWeight": "bold", "font": "Liberation Sans", "color": "black"},
      "encoding": {"x": {"datum": 85, "axis": null}, "y": {"datum": 54.4}, "text": {"field": "letter"}}},
     {"transform": [{"filter": "datum.kind === 'lab'"}], "mark": {"type": "text", "align": "center", "baseline": "middle", "fontSize": 23, "fontWeight": "bold", "font": "Liberation Sans", "color": "black"},
      "encoding": {"x": {"datum": 3640, "axis": null}, "y": {"datum": 54.7}, "text": {"field": "name"}}}
    ]},
   {"width": 528, "height": 385, "transform": [{"filter": "datum.panel === 'C'"}], "resolve": {"axis": {"x": "independent"}},
    "layer": [
     {"transform": [{"filter": "datum.kind === 'lab'"}], "mark": {"type": "rect", "fill": "white", "strokeWidth": 0},
      "encoding": {"x": {"datum": 5000, "axis": null}, "x2": {"datum": 11000}, "y": {"datum": 60.35}, "y2": {"datum": -40.35}}},
     {"transform": [{"filter": "datum.kind === 'lab'"}], "mark": {"type": "rule", "color": "#222222", "strokeWidth": 1},
      "encoding": {"x": {"datum": 4775, "axis": null}, "x2": {"datum": 7400}, "y": {"datum": -43.9}, "y2": {"datum": -36.1}}},
     {"transform": [{"filter": "datum.kind === 'lab'"}], "mark": {"type": "rule", "color": "#222222", "strokeWidth": 1},
      "encoding": {"x": {"datum": 8000, "axis": null}, "x2": {"datum": 11092}, "y": {"datum": -43.9}, "y2": {"datum": -36.1}}},
     {"transform": [{"filter": "datum.kind === 'lab'"}], "mark": {"type": "rule", "color": "#222222", "strokeWidth": 1},
      "encoding": {"x": {"datum": 4775, "axis": null}, "x2": {"datum": 7400}, "y": {"datum": 56.1}, "y2": {"datum": 63.9}}},
     {"transform": [{"filter": "datum.kind === 'lab'"}], "mark": {"type": "rule", "color": "#222222", "strokeWidth": 1},
      "encoding": {"x": {"datum": 8000, "axis": null}, "x2": {"datum": 11092}, "y": {"datum": 56.1}, "y2": {"datum": 63.9}}},
     {"transform": [{"filter": "datum.kind === 'fit'"}], "mark": {"type": "line", "strokeWidth": 3, "interpolate": "monotone"},
      "encoding": {
       "x": {"field": "day", "type": "quantitative", "title": null,
             "scale": {"domain": [0, 5000, 11000, 12000], "range": [0, 356, 386, 528], "nice": false, "zero": false},
             "axis": {"orient": "bottom", "values": [0, 2000, 4000, 11000, 12000], "format": "d", "labelAngle": -40, "labelAlign": "right", "labelBaseline": "top", "labelPadding": 10, "labelDx": -8, "labelFlush": false, "labelOverlap": false, "labelBound": false, "domain": false, "grid": false, "title": null}},
       "y": {"field": "value", "type": "quantitative", "title": null,
             "scale": {"domain": [-40, 60], "nice": false, "zero": false},
             "axis": {"values": [-40, -20, 0, 20, 40, 60], "labelPadding": 9, "labelFlush": false, "labelOverlap": false, "domain": true, "grid": false, "title": null}},
       "stroke": {"field": "treatment", "type": "nominal",
                  "scale": {"domain": ["Oil only", "Dispersed oil", "Reference"], "range": ["#9a55ff", "#006400", "#000080"]},
                  "legend": {"orient": "none", "legendX": 164, "legendY": 711, "title": null, "symbolType": "stroke", "symbolSize": 2916, "symbolStrokeWidth": 3, "labelFontSize": 23, "labelFont": "Liberation Sans", "labelColor": "black", "labelOffset": 10, "clipHeight": 30, "rowPadding": 0.5, "padding": 0, "zindex": 0}},
       "detail": {"field": "seg"}}},
     {"transform": [{"filter": "datum.kind === 'pt'"}], "mark": {"type": "point", "filled": true, "size": 400, "stroke": "black", "strokeWidth": 1, "opacity": 1},
      "encoding": {
       "x": {"field": "day", "type": "quantitative", "title": null,
             "axis": {"orient": "bottom", "values": [400, 800, 1200, 1600, 2400, 2800, 3200, 3600, 4400, 4800, 11200, 11400, 11600, 11800], "labels": false, "domain": false, "grid": false, "title": null}},
       "y": {"field": "value", "type": "quantitative", "title": null},
       "shape": {"field": "treatment", "type": "nominal", "sort": {"field": "ord", "op": "min"}, "scale": {"range": ["circle", "triangle-down", "square"]},
                 "legend": {"orient": "none", "legendX": 164, "legendY": 711, "title": null, "symbolSize": 400, "symbolStrokeColor": "black", "symbolStrokeWidth": 1, "symbolOffset": 17, "labelExpr": "''", "labelFontSize": 23, "clipHeight": 30, "rowPadding": 0.5, "padding": 0, "zindex": 1}},
       "fill": {"field": "treatment", "type": "nominal", "sort": {"field": "ord", "op": "min"}, "scale": {"range": ["#9650ff", "#006400", "#000066"]},
                "legend": {"orient": "none", "legendX": 164, "legendY": 711, "title": null, "symbolSize": 400, "symbolStrokeColor": "black", "symbolStrokeWidth": 1, "symbolOffset": 17, "labelExpr": "''", "labelFontSize": 23, "clipHeight": 30, "rowPadding": 0.5, "padding": 0, "zindex": 1}}}},
     {"transform": [{"filter": "datum.kind === 'pt'"}], "mark": {"type": "errorbar", "ticks": {"size": 11, "color": "black", "strokeWidth": 1}, "rule": {"color": "black", "strokeWidth": 1}},
      "encoding": {"x": {"field": "day", "type": "quantitative", "title": null, "axis": null}, "y": {"field": "value", "type": "quantitative", "title": null}, "yError": {"field": "sd"}}},
     {"transform": [{"filter": "datum.kind === 'lab'"}], "mark": {"type": "text", "align": "left", "baseline": "middle", "fontSize": 29, "fontWeight": "bold", "font": "Liberation Sans", "color": "black"},
      "encoding": {"x": {"datum": 85, "axis": null}, "y": {"datum": 54.4}, "text": {"field": "letter"}}},
     {"transform": [{"filter": "datum.kind === 'lab'"}], "mark": {"type": "text", "align": "center", "baseline": "middle", "fontSize": 23, "fontWeight": "bold", "font": "Liberation Sans", "color": "black"},
      "encoding": {"x": {"datum": 3640, "axis": null}, "y": {"datum": 54.7}, "text": {"field": "name"}}}
    ]},
   {"width": 528, "height": 385, "transform": [{"filter": "datum.panel === 'D'"}], "resolve": {"axis": {"x": "independent"}},
    "layer": [
     {"transform": [{"filter": "datum.kind === 'lab'"}], "mark": {"type": "rect", "fill": "white", "strokeWidth": 0},
      "encoding": {"x": {"datum": 5000, "axis": null}, "x2": {"datum": 11000}, "y": {"datum": 60.35}, "y2": {"datum": -40.35}}},
     {"transform": [{"filter": "datum.kind === 'lab'"}], "mark": {"type": "rule", "color": "#222222", "strokeWidth": 1},
      "encoding": {"x": {"datum": 4775, "axis": null}, "x2": {"datum": 7400}, "y": {"datum": -43.9}, "y2": {"datum": -36.1}}},
     {"transform": [{"filter": "datum.kind === 'lab'"}], "mark": {"type": "rule", "color": "#222222", "strokeWidth": 1},
      "encoding": {"x": {"datum": 8000, "axis": null}, "x2": {"datum": 11092}, "y": {"datum": -43.9}, "y2": {"datum": -36.1}}},
     {"transform": [{"filter": "datum.kind === 'lab'"}], "mark": {"type": "rule", "color": "#222222", "strokeWidth": 1},
      "encoding": {"x": {"datum": 4775, "axis": null}, "x2": {"datum": 7400}, "y": {"datum": 56.1}, "y2": {"datum": 63.9}}},
     {"transform": [{"filter": "datum.kind === 'lab'"}], "mark": {"type": "rule", "color": "#222222", "strokeWidth": 1},
      "encoding": {"x": {"datum": 8000, "axis": null}, "x2": {"datum": 11092}, "y": {"datum": 56.1}, "y2": {"datum": 63.9}}},
     {"transform": [{"filter": "datum.kind === 'fit'"}], "mark": {"type": "line", "strokeWidth": 3, "interpolate": "monotone"},
      "encoding": {
       "x": {"field": "day", "type": "quantitative", "title": null,
             "scale": {"domain": [0, 5000, 11000, 12000], "range": [0, 356, 386, 528], "nice": false, "zero": false},
             "axis": {"orient": "bottom", "values": [0, 2000, 4000, 11000, 12000], "format": "d", "labelAngle": -40, "labelAlign": "right", "labelBaseline": "top", "labelPadding": 10, "labelDx": -8, "labelFlush": false, "labelOverlap": false, "labelBound": false, "domain": false, "grid": false, "title": null}},
       "y": {"field": "value", "type": "quantitative", "title": null,
             "scale": {"domain": [-40, 60], "nice": false, "zero": false},
             "axis": {"values": [-40, -20, 0, 20, 40, 60], "labelPadding": 9, "labelFlush": false, "labelOverlap": false, "domain": true, "grid": false, "title": null}},
       "stroke": {"field": "treatment", "type": "nominal",
                  "scale": {"domain": ["Oil only", "Dispersed oil", "Reference"], "range": ["#9a55ff", "#006400", "#000080"]},
                  "legend": {"orient": "none", "legendX": 164, "legendY": 711, "title": null, "symbolType": "stroke", "symbolSize": 2916, "symbolStrokeWidth": 3, "labelFontSize": 23, "labelFont": "Liberation Sans", "labelColor": "black", "labelOffset": 10, "clipHeight": 30, "rowPadding": 0.5, "padding": 0, "zindex": 0}},
       "detail": {"field": "seg"}}},
     {"transform": [{"filter": "datum.kind === 'pt'"}], "mark": {"type": "point", "filled": true, "size": 400, "stroke": "black", "strokeWidth": 1, "opacity": 1},
      "encoding": {
       "x": {"field": "day", "type": "quantitative", "title": null,
             "axis": {"orient": "bottom", "values": [400, 800, 1200, 1600, 2400, 2800, 3200, 3600, 4400, 4800, 11200, 11400, 11600, 11800], "labels": false, "domain": false, "grid": false, "title": null}},
       "y": {"field": "value", "type": "quantitative", "title": null},
       "shape": {"field": "treatment", "type": "nominal", "sort": {"field": "ord", "op": "min"}, "scale": {"range": ["circle", "triangle-down", "square"]},
                 "legend": {"orient": "none", "legendX": 164, "legendY": 711, "title": null, "symbolSize": 400, "symbolStrokeColor": "black", "symbolStrokeWidth": 1, "symbolOffset": 17, "labelExpr": "''", "labelFontSize": 23, "clipHeight": 30, "rowPadding": 0.5, "padding": 0, "zindex": 1}},
       "fill": {"field": "treatment", "type": "nominal", "sort": {"field": "ord", "op": "min"}, "scale": {"range": ["#9650ff", "#006400", "#000066"]},
                "legend": {"orient": "none", "legendX": 164, "legendY": 711, "title": null, "symbolSize": 400, "symbolStrokeColor": "black", "symbolStrokeWidth": 1, "symbolOffset": 17, "labelExpr": "''", "labelFontSize": 23, "clipHeight": 30, "rowPadding": 0.5, "padding": 0, "zindex": 1}}}},
     {"transform": [{"filter": "datum.kind === 'pt'"}], "mark": {"type": "errorbar", "ticks": {"size": 11, "color": "black", "strokeWidth": 1}, "rule": {"color": "black", "strokeWidth": 1}},
      "encoding": {"x": {"field": "day", "type": "quantitative", "title": null, "axis": null}, "y": {"field": "value", "type": "quantitative", "title": null}, "yError": {"field": "sd"}}},
     {"transform": [{"filter": "datum.kind === 'lab'"}], "mark": {"type": "text", "align": "left", "baseline": "middle", "fontSize": 29, "fontWeight": "bold", "font": "Liberation Sans", "color": "black"},
      "encoding": {"x": {"datum": 85, "axis": null}, "y": {"datum": 54.4}, "text": {"field": "letter"}}},
     {"transform": [{"filter": "datum.kind === 'lab'"}], "mark": {"type": "text", "align": "center", "baseline": "middle", "fontSize": 23, "fontWeight": "bold", "font": "Liberation Sans", "color": "black"},
      "encoding": {"x": {"datum": 3640, "axis": null}, "y": {"datum": 54.7}, "text": {"field": "name"}}}
    ]}
  ]
 }],
 "config": {
  "font": "Liberation Sans",
  "view": {"stroke": "#222222", "strokeWidth": 1},
  "axis": {"grid": false, "labelFont": "Liberation Sans", "labelFontWeight": "bold", "labelFontSize": 17, "labelColor": "black",
           "tickColor": "black", "tickSize": 5, "domainColor": "black", "tickWidth": 1}
 }
}
